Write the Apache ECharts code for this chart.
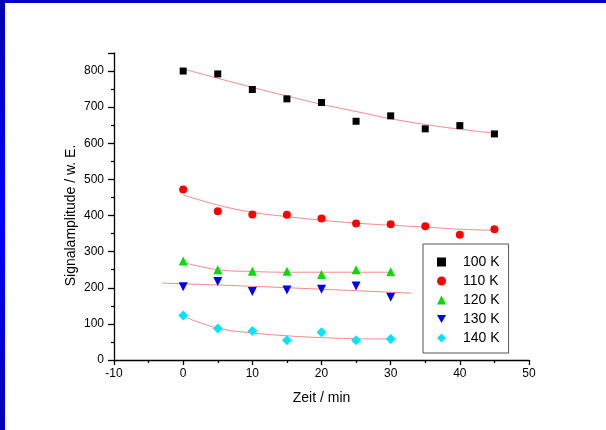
<!DOCTYPE html>
<html>
<head>
<meta charset="utf-8">
<script src="https://cdn.jsdelivr.net/npm/echarts@6/dist/echarts.min.js"></script>
<style>
html,body{margin:0;padding:0;background:#fff;}
#chart{width:606px;height:430px;}
</style>
</head>
<body>
<div id="chart"></div>
<script>
// ---- data ----
const timesLong = [0, 5, 10, 15, 20, 25, 30, 35, 40, 45];
const timesShort = [0, 5, 10, 15, 20, 25, 30];
const fitTimes130 = [-3, 10, 20, 33];

const seriesNames = ['100 K', '110 K', '120 K', '130 K', '140 K'];
const amp100 = [800, 792, 749, 723, 713, 661, 676, 640, 649, 626];
const amp110 = [472, 412, 403, 402, 392, 378, 376, 370, 347, 362];
const amp120 = [274, 250, 246, 246, 237, 250, 244];
const amp130 = [203, 217, 190, 194, 196, 205, 174];
const amp140 = [123, 87, 80, 55, 77, 55, 58];

// fitted curves
const fit100 = [806, 780, 755, 731, 708, 688, 668, 652, 639, 628];
const fit110 = [457, 429, 409, 397, 387, 379, 373, 368, 362, 359];
const fit120 = [270, 250, 245, 243, 243, 243, 243];
const fit130 = [213, 204, 196, 185];
const fit140 = [121, 88, 75, 67, 62, 59, 58];

const xTicks = [-10, 0, 10, 20, 30, 40, 50];
const yTicks = [0, 100, 200, 300, 400, 500, 600, 700, 800];

const zip = (xs, ys) => xs.map((x, i) => [x, ys[i]]);
const FONT = 'Arial, "Liberation Sans", sans-serif';
const fitColor = '#f48a8a';

function scatter(name, xs, ys, symbol, size, color) {
  return {
    name: name, type: 'scatter', data: zip(xs, ys),
    symbol: symbol, symbolSize: size,
    itemStyle: { color: color, opacity: 1 }, z: 3
  };
}
function fit(xs, ys) {
  return {
    type: 'line', data: zip(xs, ys), smooth: 0.4, symbol: 'none',
    lineStyle: { color: fitColor, width: 1 }, silent: true, z: 2
  };
}

const chart = echarts.init(document.getElementById('chart'), null, { renderer: 'canvas' });
chart.setOption({
  backgroundColor: '#fff',
  animation: false,
  textStyle: { fontFamily: FONT },
  grid: { left: 114, right: 77, top: 53, bottom: 70, containLabel: false },
  graphic: [
    { type: 'rect', left: 0, top: 0, shape: { width: 606, height: 3 }, style: { fill: '#0000c8' }, z: 100 },
    { type: 'rect', left: 0, top: 0, shape: { width: 5, height: 430 },
      style: { fill: new echarts.graphic.LinearGradient(0, 0, 0, 1, [
        { offset: 0, color: '#0000b0' }, { offset: 0.5, color: '#0000ff' }, { offset: 1, color: '#0000b8' }]) }, z: 100 }
  ],
  xAxis: {
    type: 'value', min: -10, max: 50, interval: 10,
    name: 'Zeit / min', nameLocation: 'middle', nameGap: 31, nameMoveOverlap: false,
    nameTextStyle: { fontSize: 14, color: '#000', fontFamily: FONT },
    axisLine: { show: true, onZero: false, lineStyle: { color: '#000', width: 1.3 } },
    axisTick: { show: true, inside: false, length: 5, lineStyle: { color: '#000', width: 1.3 } },
    minorTick: { show: true, splitNumber: 2, length: 3, lineStyle: { color: '#000', width: 1.3 } },
    axisLabel: { fontSize: 12, color: '#000', margin: 8, fontFamily: FONT,
      formatter: v => xTicks.includes(v) ? String(v) : '' },
    splitLine: { show: false }
  },
  yAxis: {
    type: 'value', min: 0, max: 850, interval: 100,
    name: 'Signalamplitude / w. E.', nameLocation: 'middle', nameGap: 36, nameRotate: 90,
    nameMoveOverlap: false,
    nameTextStyle: { fontSize: 14, color: '#000', fontFamily: FONT, padding: [0, 18, 0, 0] },
    axisLine: { show: true, onZero: false, lineStyle: { color: '#000', width: 1.3 } },
    axisTick: { show: true, inside: false, length: 6, lineStyle: { color: '#000', width: 1.3 } },
    minorTick: { show: true, splitNumber: 2, length: 3, lineStyle: { color: '#000', width: 1.3 } },
    axisLabel: { fontSize: 12, color: '#000', margin: 10, fontFamily: FONT,
      formatter: v => yTicks.includes(v) ? String(v) : '' },
    splitLine: { show: false }
  },
  legend: {
    data: seriesNames,
    orient: 'vertical', left: 423, top: 244,
    padding: [11, 9, 8, 14], itemGap: 5,
    itemWidth: 9, itemHeight: 9,
    borderColor: '#555', borderWidth: 1,
    textStyle: { fontSize: 14, color: '#000', fontFamily: FONT, lineHeight: 14, padding: [0, 0, 0, 12] }
  },
  series: [
    fit(timesLong, fit100),
    fit(timesLong, fit110),
    fit(timesShort, fit120),
    fit(fitTimes130, fit130),
    fit(timesShort, fit140),
    scatter(seriesNames[0], timesLong, amp100, 'rect', 7, '#000000'),
    scatter(seriesNames[1], timesLong, amp110, 'circle', 8, '#ff0000'),
    scatter(seriesNames[2], timesShort, amp120, 'triangle', 9, '#00e000'),
    scatter(seriesNames[3], timesShort, amp130, 'path://M0,0 L10,0 L5,9 Z', 9, '#0000ff'),
    scatter(seriesNames[4], timesShort, amp140, 'diamond', 10, '#00e5ff')
  ]
});
</script>
</body>
</html>
